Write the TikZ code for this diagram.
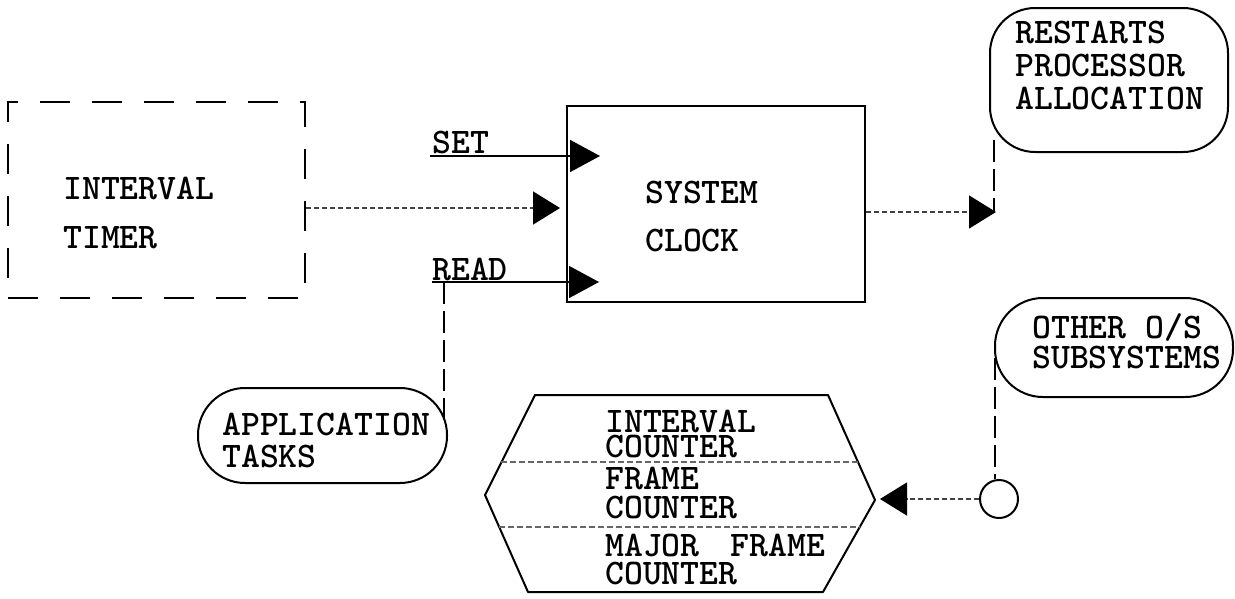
\documentclass[tikz,border=0pt]{standalone}
\usepackage{fontspec}
\usetikzlibrary{arrows.meta,calc}
\begin{document}
\begin{tikzpicture}[x=1pt,y=-1pt,
  box/.style={draw, line width=2pt, inner sep=0pt, rectangle},
  dashbox/.style={box, dash pattern=on 30pt off 22pt},
  pill/.style={draw, line width=2pt, inner sep=0pt, rectangle, rounded corners=#1},
  lbl/.style={inner sep=0pt, anchor=base west, text height=21pt, text depth=0pt, font=\ttfamily\bfseries\fontsize{36}{36}\selectfont},
  solidline/.style={line width=1.6pt},
  dotline/.style={line width=1.4pt, black!75, dash pattern=on 5pt off 3pt},
  vdash/.style={line width=1.8pt, dash pattern=on 22pt off 7pt},
  sepline/.style={line width=1.2pt, black!60, dash pattern=on 6pt off 3pt},
  bigtip/.style={-{Triangle[length=30pt,width=32pt,black]}},
  midtip/.style={-{Triangle[length=27pt,width=33pt,black]}},
]
\useasboundingbox (0,0) rectangle (1235,598);

% shapes
\node[dashbox, minimum width=297pt, minimum height=196pt] (timer) at (156.5,200) {};
\node[box, minimum width=298pt, minimum height=196pt] (clock) at (716,204) {};
\node[pill=45pt, minimum width=238pt, minimum height=144pt] (restart) at (1109,80) {};
\node[pill=47pt, minimum width=249pt, minimum height=95pt] (app) at (322.5,435.5) {};
\node[pill=48pt, minimum width=238pt, minimum height=99pt] (other) at (1114,347.5) {};
\node[draw, circle, line width=2pt, minimum size=38pt, inner sep=0pt] (circ) at (999,499) {};

% hexagon
\coordinate (hTL) at (535,395);
\coordinate (hTR) at (828,395);
\coordinate (hR) at (875,500);
\coordinate (hBR) at (823,592);
\coordinate (hBL) at (528,592);
\coordinate (hL) at (485,495);
\draw[line width=2pt, line join=round] (hTL) -- (hTR) -- (hR) -- (hBR) -- (hBL) -- (hL) -- cycle;
\coordinate (s1a) at (501,462); \coordinate (s1b) at (858,462);
\coordinate (s2a) at (499,527); \coordinate (s2b) at (860,527);
\draw[sepline] (s1a) -- (s1b);
\draw[sepline] (s2a) -- (s2b);

% texts
\node[lbl] (t1) at (63,199) {INTERVAL};
\node[lbl] (t2) at (63,248) {TIMER};
\node[lbl] (c1) at (645,203) {SYSTEM};
\node[lbl] (c2) at (645,251) {CLOCK};
\node[lbl] (setl) at (432,153) {SET};
\node[lbl] (readl) at (432,280) {READ};
\node[lbl] (r1) at (1015,43) {RESTARTS};
\node[lbl] (r2) at (1015,76) {PROCESSOR};
\node[lbl] (r3) at (1015,109) {ALLOCATION};
\node[lbl] (a1) at (222,435) {APPLICATION};
\node[lbl] (a2) at (222,467) {TASKS};
\node[lbl] (o1) at (1032,338) {OTHER O/S};
\node[lbl] (o2) at (1032,368) {SUBSYSTEMS};
\node[lbl] (h1) at (605,432) {INTERVAL};
\node[lbl] (h2) at (605,457) {COUNTER};
\node[lbl] (h3) at (605,489) {FRAME};
\node[lbl] (h4) at (605,518) {COUNTER};
\node[lbl] (h5) at (605,556) {MAJOR~\hspace{12pt}FRAME};
\node[lbl] (h6) at (605,584) {COUNTER};

% connectors
\coordinate (setS) at (430,156);
\coordinate (setE) at (600,156);
\draw[solidline, bigtip] (setS) -- (setE);

\coordinate (readS) at (432,282);
\coordinate (readE) at (599,282);
\draw[solidline, bigtip] (readS) -- (readE);
\coordinate (readJ) at (444,282);
\coordinate (appTop) at (444,418);
\draw[vdash] (readJ) -- (appTop);

\coordinate (midE) at (560,208);
\draw[dotline, midtip] ([yshift=-8pt]timer.east) -- (midE);

\coordinate (junc) at (996,212);
\draw[dotline, midtip] ([yshift=-8pt]clock.east) -- (junc);
\coordinate (rsB) at (994,140);
\draw[vdash] (rsB) -- (rsB |- junc);

\coordinate (otL) at (995,358);
\draw[vdash] (otL) -- (otL |- circ.north);

\coordinate (hexTip) at (880,499);
\draw[dotline, midtip] (circ.west) -- (hexTip);
\end{tikzpicture}
\end{document}
